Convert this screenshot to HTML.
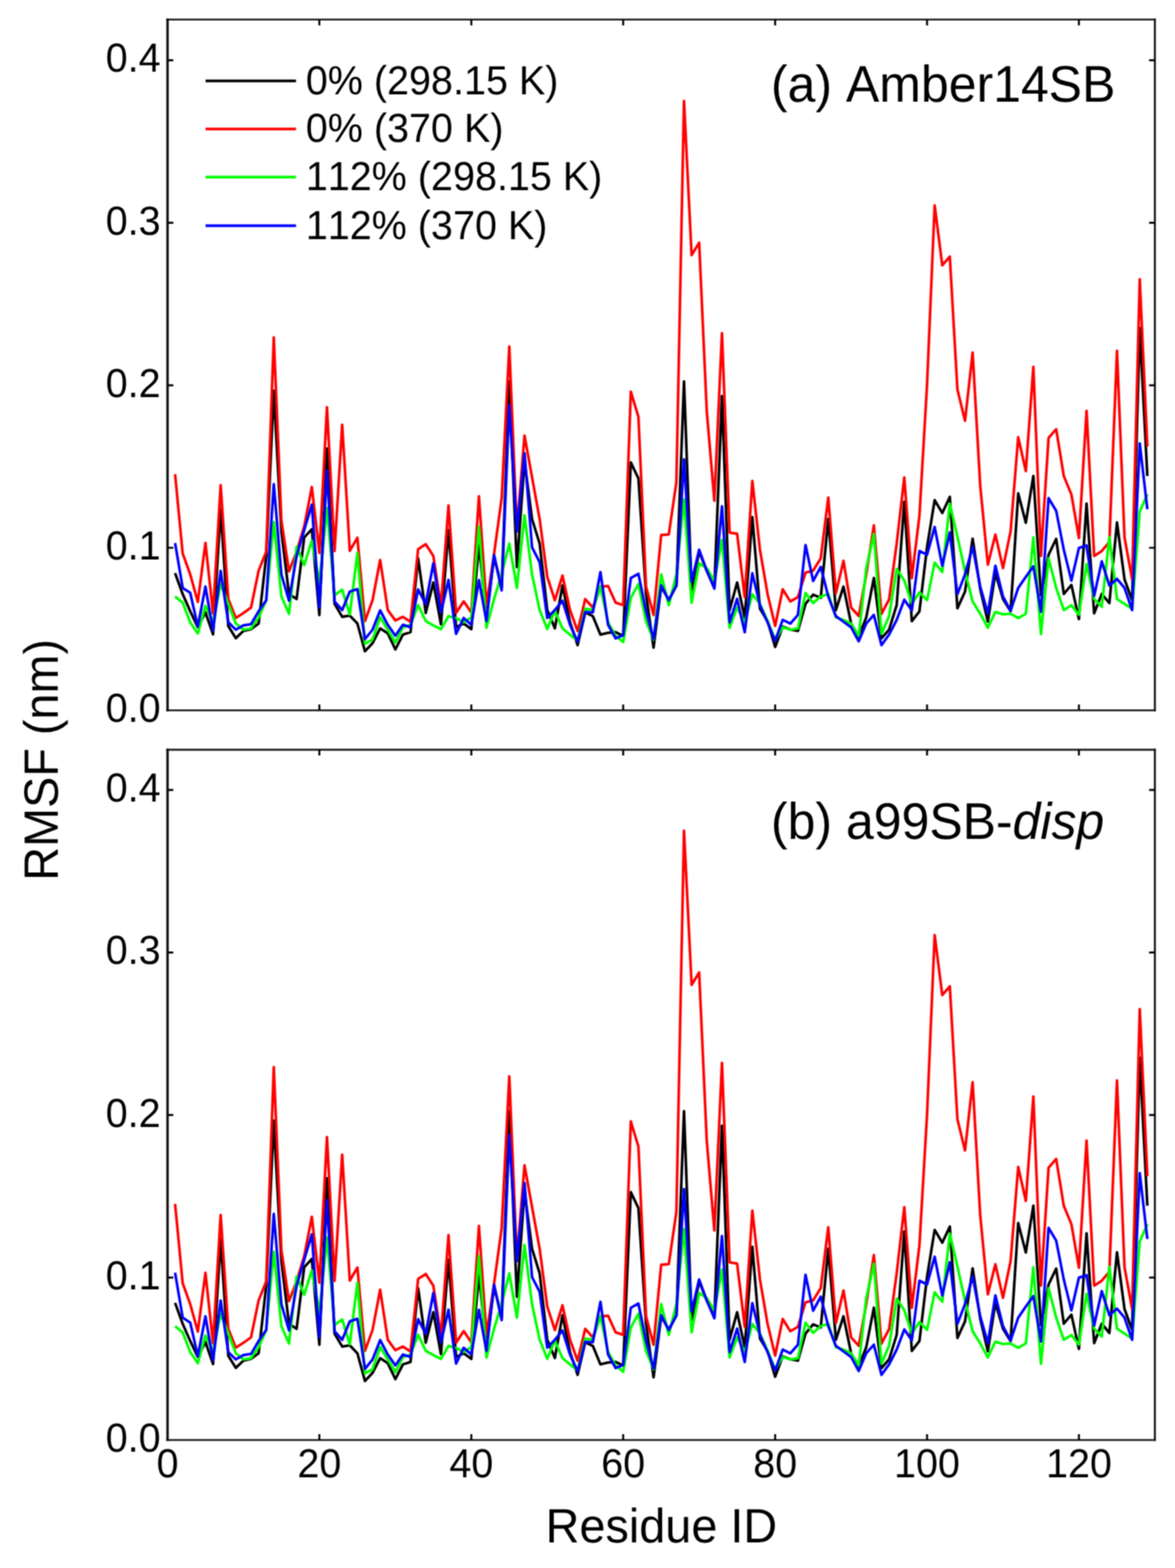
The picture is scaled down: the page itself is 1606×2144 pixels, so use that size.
<!DOCTYPE html>
<html lang="en"><head><meta charset="utf-8"><title>RMSF per residue</title>
<style>
html,body{margin:0;padding:0;background:#fff;}
body{width:1606px;height:2144px;overflow:hidden;}
svg{display:block;font-family:"Liberation Sans",Arial,Helvetica,sans-serif;fill:#000;font-kerning:none;text-rendering:geometricPrecision;}
</style></head><body>
<svg xmlns="http://www.w3.org/2000/svg" width="1606" height="2144" viewBox="0 0 1606 2144">
<defs><filter id="soft" filterUnits="userSpaceOnUse" x="0" y="0" width="1606" height="2144" color-interpolation-filters="sRGB"><feConvolveMatrix order="3" kernelMatrix="1 2 1 2 4 2 1 2 1" divisor="16" edgeMode="duplicate" preserveAlpha="false"/></filter></defs>
<g filter="url(#soft)">
<rect width="1606" height="2144" fill="#ffffff"/>
<g id="panel-a">
<polyline fill="none" stroke="#000000" stroke-width="3.60" stroke-linejoin="round" points="239.3,783.7 249.7,812.3 260.0,835.8 270.4,857.7 280.8,837.4 291.2,867.3 301.6,696.5 312.0,856.0 322.3,872.6 332.7,862.7 343.1,860.2 353.5,852.6 363.9,760.2 374.2,534.4 384.6,726.5 395.0,812.3 405.4,819.1 415.8,734.9 426.2,723.6 436.5,840.9 446.9,613.2 457.3,825.7 467.7,843.4 478.1,841.7 488.5,852.6 498.8,890.5 509.2,879.5 519.6,859.3 530.0,866.1 540.4,888.0 550.7,867.8 561.1,864.4 571.5,763.4 581.9,838.1 592.3,796.5 602.7,853.8 613.0,724.8 623.4,857.7 633.8,852.5 644.2,860.3 654.6,744.9 664.9,842.6 675.3,761.8 685.7,802.3 696.1,521.6 706.5,775.4 716.9,630.6 727.2,709.7 737.6,743.3 748.0,834.1 758.4,859.1 768.8,800.4 779.1,850.9 789.5,882.1 799.9,837.5 810.3,842.5 820.7,867.8 831.1,865.2 841.4,864.4 851.8,869.5 862.2,632.3 872.6,654.2 883.0,812.3 893.3,885.5 903.7,802.1 914.1,820.4 924.5,801.0 934.9,521.6 945.3,807.3 955.6,754.1 966.0,780.5 976.4,802.9 986.8,541.6 997.2,834.2 1007.5,796.5 1017.9,844.3 1028.3,707.1 1038.7,832.4 1049.1,849.3 1059.5,884.6 1069.8,856.8 1080.2,860.7 1090.6,862.7 1101.0,825.7 1111.4,813.1 1121.8,817.3 1132.1,709.6 1142.5,834.2 1152.9,802.1 1163.3,852.6 1173.7,871.2 1184.0,844.2 1194.4,790.3 1204.8,872.9 1215.2,861.0 1225.6,827.4 1236.0,686.1 1246.3,849.3 1256.7,835.8 1267.1,748.0 1277.5,683.9 1287.9,701.4 1298.2,679.4 1308.6,831.7 1319.0,808.9 1329.4,736.5 1339.8,805.5 1350.2,849.9 1360.5,783.6 1370.9,819.0 1381.3,835.9 1391.7,674.6 1402.1,714.8 1412.4,650.8 1422.8,814.0 1433.2,758.5 1443.6,736.8 1454.0,812.1 1464.4,799.9 1474.7,846.5 1485.1,688.6 1495.5,838.7 1505.9,812.2 1516.3,824.7 1526.7,714.4 1537.0,792.1 1547.4,820.8 1557.8,448.6 1568.2,650.9"/>
<polyline fill="none" stroke="#ff0000" stroke-width="3.60" stroke-linejoin="round" points="239.3,648.4 249.7,756.8 260.0,785.4 270.4,823.0 280.8,742.4 291.2,838.7 301.6,663.4 312.0,819.0 322.3,844.9 332.7,838.3 343.1,830.8 353.5,780.3 363.9,754.3 374.2,461.2 384.6,711.4 395.0,781.3 405.4,754.3 415.8,719.8 426.2,665.9 436.5,756.0 446.9,556.9 457.3,753.5 467.7,580.9 478.1,753.2 488.5,735.4 498.8,849.3 509.2,820.7 519.6,765.7 530.0,834.1 540.4,848.4 550.7,843.4 561.1,850.2 571.5,750.9 581.9,744.1 592.3,760.2 602.7,829.2 613.0,691.1 623.4,838.1 633.8,822.3 644.2,837.6 654.6,678.5 664.9,827.5 675.3,757.6 685.7,681.1 696.1,473.9 706.5,724.9 716.9,595.6 727.2,652.6 737.6,709.7 748.0,788.7 758.4,820.8 768.8,787.0 779.1,834.1 789.5,862.8 799.9,819.2 810.3,830.8 820.7,802.2 831.1,801.3 841.4,824.0 851.8,827.4 862.2,535.6 872.6,570.0 883.0,802.2 893.3,840.9 903.7,731.6 914.1,730.7 924.5,659.3 934.9,138.1 945.3,348.9 955.6,331.9 966.0,562.0 976.4,684.6 986.8,455.6 997.2,728.2 1007.5,729.9 1017.9,816.3 1028.3,657.5 1038.7,751.7 1049.1,812.3 1059.5,855.8 1069.8,805.7 1080.2,822.4 1090.6,816.5 1101.0,782.9 1111.4,780.3 1121.8,763.5 1132.1,680.2 1142.5,811.2 1152.9,766.8 1163.3,830.8 1173.7,842.3 1184.0,785.4 1194.4,718.3 1204.8,839.3 1215.2,819.6 1225.6,743.3 1236.0,652.8 1246.3,790.5 1256.7,705.0 1267.1,526.0 1277.5,280.8 1287.9,362.8 1298.2,350.9 1308.6,532.5 1319.0,575.3 1329.4,482.0 1339.8,664.3 1350.2,772.0 1360.5,730.9 1370.9,776.8 1381.3,726.5 1391.7,597.8 1402.1,644.2 1412.4,501.6 1422.8,760.2 1433.2,598.8 1443.6,586.9 1454.0,650.9 1464.4,676.1 1474.7,735.6 1485.1,561.7 1495.5,760.2 1505.9,753.4 1516.3,741.1 1526.7,479.6 1537.0,734.9 1547.4,792.2 1557.8,381.9 1568.2,610.5"/>
<polyline fill="none" stroke="#00ff00" stroke-width="3.60" stroke-linejoin="round" points="239.3,815.6 249.7,824.0 260.0,850.9 270.4,866.2 280.8,828.4 291.2,851.0 301.6,798.7 312.0,825.7 322.3,852.6 332.7,861.0 343.1,859.3 353.5,844.2 363.9,820.7 374.2,713.8 384.6,815.6 395.0,839.3 405.4,747.5 415.8,772.6 426.2,739.3 436.5,797.2 446.9,694.5 457.3,814.0 467.7,806.3 478.1,840.4 488.5,755.9 498.8,880.1 509.2,874.5 519.6,844.1 530.0,861.0 540.4,878.5 550.7,857.7 561.1,854.3 571.5,827.3 581.9,849.3 592.3,855.1 602.7,860.3 613.0,842.5 623.4,845.1 633.8,850.9 644.2,844.2 654.6,719.7 664.9,858.3 675.3,819.0 685.7,784.8 696.1,743.3 706.5,803.9 716.9,704.6 727.2,785.4 737.6,834.1 748.0,860.0 758.4,835.2 768.8,859.3 779.1,867.8 789.5,876.2 799.9,832.4 810.3,834.1 820.7,802.1 831.1,850.9 841.4,869.4 851.8,877.9 862.2,817.3 872.6,798.7 883.0,849.3 893.3,874.6 903.7,785.3 914.1,827.5 924.5,785.4 934.9,682.7 945.3,824.1 955.6,770.2 966.0,777.0 976.4,794.4 986.8,738.2 997.2,858.3 1007.5,830.7 1017.9,851.0 1028.3,812.5 1038.7,825.7 1049.1,849.3 1059.5,874.6 1069.8,857.7 1080.2,861.0 1090.6,859.3 1101.0,810.8 1111.4,824.7 1121.8,815.6 1132.1,812.3 1142.5,844.2 1152.9,847.6 1163.3,852.6 1173.7,869.5 1184.0,777.0 1194.4,730.1 1204.8,866.7 1215.2,842.5 1225.6,778.0 1236.0,793.8 1246.3,825.8 1256.7,810.0 1267.1,820.5 1277.5,769.3 1287.9,782.1 1298.2,688.9 1308.6,733.7 1319.0,781.0 1329.4,822.4 1339.8,839.2 1350.2,858.3 1360.5,836.7 1370.9,840.0 1381.3,839.2 1391.7,845.1 1402.1,839.2 1412.4,734.9 1422.8,867.0 1433.2,763.4 1443.6,803.9 1454.0,834.2 1464.4,827.6 1474.7,840.7 1485.1,771.3 1495.5,819.0 1505.9,829.7 1516.3,734.3 1526.7,819.0 1537.0,825.7 1547.4,832.5 1557.8,699.6 1568.2,676.1"/>
<polyline fill="none" stroke="#0000ff" stroke-width="3.60" stroke-linejoin="round" points="239.3,742.5 249.7,803.9 260.0,810.6 270.4,856.6 280.8,802.1 291.2,862.2 301.6,780.5 312.0,850.9 322.3,861.0 332.7,855.1 343.1,853.5 353.5,835.8 363.9,820.7 374.2,662.0 384.6,785.4 395.0,821.3 405.4,760.2 415.8,724.8 426.2,690.0 436.5,830.8 446.9,643.2 457.3,822.4 467.7,834.2 478.1,808.9 488.5,805.5 498.8,874.0 509.2,861.0 519.6,834.6 530.0,854.3 540.4,869.2 550.7,854.3 561.1,857.7 571.5,806.0 581.9,825.8 592.3,770.2 602.7,837.6 613.0,793.1 623.4,866.7 633.8,845.0 644.2,854.4 654.6,793.1 664.9,849.3 675.3,758.7 685.7,807.3 696.1,553.6 706.5,726.6 716.9,619.7 727.2,748.4 737.6,768.6 748.0,844.9 758.4,834.1 768.8,821.4 779.1,854.3 789.5,877.4 799.9,836.9 810.3,837.5 820.7,782.2 831.1,854.3 841.4,872.8 851.8,868.6 862.2,790.4 872.6,784.5 883.0,835.8 893.3,873.4 903.7,800.4 914.1,820.8 924.5,800.5 934.9,628.1 945.3,795.5 955.6,751.7 966.0,780.3 976.4,804.8 986.8,692.3 997.2,851.0 1007.5,818.9 1017.9,864.5 1028.3,783.9 1038.7,827.4 1049.1,850.9 1059.5,876.2 1069.8,847.5 1080.2,852.7 1090.6,840.9 1101.0,745.2 1111.4,794.4 1121.8,775.2 1132.1,815.6 1142.5,842.5 1152.9,850.1 1163.3,857.7 1173.7,876.8 1184.0,852.6 1194.4,840.8 1204.8,882.1 1215.2,867.8 1225.6,847.6 1236.0,820.0 1246.3,834.8 1256.7,753.4 1267.1,758.5 1277.5,720.6 1287.9,773.7 1298.2,728.1 1308.6,812.4 1319.0,785.4 1329.4,747.5 1339.8,802.2 1350.2,838.7 1360.5,773.5 1370.9,815.6 1381.3,835.1 1391.7,803.9 1402.1,788.7 1412.4,774.4 1422.8,836.5 1433.2,681.1 1443.6,698.5 1454.0,751.7 1464.4,793.9 1474.7,749.2 1485.1,745.9 1495.5,814.6 1505.9,767.6 1516.3,800.6 1526.7,791.5 1537.0,803.9 1547.4,834.2 1557.8,606.2 1568.2,696.3"/>
<path d="M227.3 26.8H1579.9 M227.3 971.2H1579.9" fill="none" stroke="#1c1c1c" stroke-width="2.6"/>
<path d="M229.0 25.5V972.5" fill="none" stroke="#0c0c0c" stroke-width="3.3"/>
<path d="M1578.5 25.5V972.5" fill="none" stroke="#141414" stroke-width="2.7"/>
<path d="M436.5 26.8v8 M436.5 971.2v-8" stroke="#000" stroke-width="2.70"/>
<path d="M644.2 26.8v8 M644.2 971.2v-8" stroke="#000" stroke-width="2.70"/>
<path d="M851.8 26.8v8 M851.8 971.2v-8" stroke="#000" stroke-width="2.70"/>
<path d="M1059.5 26.8v8 M1059.5 971.2v-8" stroke="#000" stroke-width="2.70"/>
<path d="M1267.1 26.8v8 M1267.1 971.2v-8" stroke="#000" stroke-width="2.70"/>
<path d="M1474.7 26.8v8 M1474.7 971.2v-8" stroke="#000" stroke-width="2.70"/>
<path d="M228.9 749.0h8 M1578.6 749.0h-8" stroke="#000" stroke-width="2.70"/>
<path d="M228.9 526.8h8 M1578.6 526.8h-8" stroke="#000" stroke-width="2.70"/>
<path d="M228.9 304.6h8 M1578.6 304.6h-8" stroke="#000" stroke-width="2.70"/>
<path d="M228.9 82.4h8 M1578.6 82.4h-8" stroke="#000" stroke-width="2.70"/>
<text transform="translate(219.5 987.2) scale(1 1.03)" text-anchor="end" font-size="54">0.0</text>
<text transform="translate(219.5 765.0) scale(1 1.03)" text-anchor="end" font-size="54">0.1</text>
<text transform="translate(219.5 542.8) scale(1 1.03)" text-anchor="end" font-size="54">0.2</text>
<text transform="translate(219.5 320.6) scale(1 1.03)" text-anchor="end" font-size="54">0.3</text>
<text transform="translate(219.5 98.4) scale(1 1.03)" text-anchor="end" font-size="54">0.4</text>
</g>
<g id="panel-b">
<polyline fill="none" stroke="#000000" stroke-width="3.60" stroke-linejoin="round" points="239.3,1781.5 249.7,1810.1 260.0,1833.6 270.4,1855.5 280.8,1835.2 291.2,1865.1 301.6,1694.3 312.0,1853.8 322.3,1870.4 332.7,1860.5 343.1,1858.0 353.5,1850.4 363.9,1758.0 374.2,1532.2 384.6,1724.3 395.0,1810.1 405.4,1816.9 415.8,1732.7 426.2,1721.4 436.5,1838.7 446.9,1611.0 457.3,1823.5 467.7,1841.2 478.1,1839.5 488.5,1850.4 498.8,1888.3 509.2,1877.3 519.6,1857.1 530.0,1863.9 540.4,1885.8 550.7,1865.6 561.1,1862.2 571.5,1761.2 581.9,1835.9 592.3,1794.3 602.7,1851.6 613.0,1722.6 623.4,1855.5 633.8,1850.3 644.2,1858.1 654.6,1742.7 664.9,1840.4 675.3,1759.6 685.7,1800.1 696.1,1519.4 706.5,1773.2 716.9,1628.4 727.2,1707.5 737.6,1741.1 748.0,1831.9 758.4,1856.9 768.8,1798.2 779.1,1848.7 789.5,1879.9 799.9,1835.3 810.3,1840.3 820.7,1865.6 831.1,1863.0 841.4,1862.2 851.8,1867.3 862.2,1630.1 872.6,1652.0 883.0,1810.1 893.3,1883.3 903.7,1799.9 914.1,1818.2 924.5,1798.8 934.9,1519.4 945.3,1805.1 955.6,1751.9 966.0,1778.3 976.4,1800.7 986.8,1539.4 997.2,1832.0 1007.5,1794.3 1017.9,1842.1 1028.3,1704.9 1038.7,1830.2 1049.1,1847.1 1059.5,1882.4 1069.8,1854.6 1080.2,1858.5 1090.6,1860.5 1101.0,1823.5 1111.4,1810.9 1121.8,1815.1 1132.1,1707.4 1142.5,1832.0 1152.9,1799.9 1163.3,1850.4 1173.7,1869.0 1184.0,1842.0 1194.4,1788.1 1204.8,1870.7 1215.2,1858.8 1225.6,1825.2 1236.0,1683.9 1246.3,1847.1 1256.7,1833.6 1267.1,1745.8 1277.5,1681.7 1287.9,1699.2 1298.2,1677.2 1308.6,1829.5 1319.0,1806.7 1329.4,1734.3 1339.8,1803.3 1350.2,1847.7 1360.5,1781.4 1370.9,1816.8 1381.3,1833.7 1391.7,1672.4 1402.1,1712.6 1412.4,1648.6 1422.8,1811.8 1433.2,1756.3 1443.6,1734.6 1454.0,1809.9 1464.4,1797.7 1474.7,1844.3 1485.1,1686.4 1495.5,1836.5 1505.9,1810.0 1516.3,1822.5 1526.7,1712.2 1537.0,1789.9 1547.4,1818.6 1557.8,1446.4 1568.2,1648.7"/>
<polyline fill="none" stroke="#ff0000" stroke-width="3.60" stroke-linejoin="round" points="239.3,1646.2 249.7,1754.6 260.0,1783.2 270.4,1820.8 280.8,1740.2 291.2,1836.5 301.6,1661.2 312.0,1816.8 322.3,1842.7 332.7,1836.1 343.1,1828.6 353.5,1778.1 363.9,1752.1 374.2,1459.0 384.6,1709.2 395.0,1779.1 405.4,1752.1 415.8,1717.6 426.2,1663.7 436.5,1753.8 446.9,1554.7 457.3,1751.3 467.7,1578.7 478.1,1751.0 488.5,1733.2 498.8,1847.1 509.2,1818.5 519.6,1763.5 530.0,1831.9 540.4,1846.2 550.7,1841.2 561.1,1848.0 571.5,1748.7 581.9,1741.9 592.3,1758.0 602.7,1827.0 613.0,1688.9 623.4,1835.9 633.8,1820.1 644.2,1835.4 654.6,1676.3 664.9,1825.3 675.3,1755.4 685.7,1678.9 696.1,1471.7 706.5,1722.7 716.9,1593.4 727.2,1650.4 737.6,1707.5 748.0,1786.5 758.4,1818.6 768.8,1784.8 779.1,1831.9 789.5,1860.6 799.9,1817.0 810.3,1828.6 820.7,1800.0 831.1,1799.1 841.4,1821.8 851.8,1825.2 862.2,1533.4 872.6,1567.8 883.0,1800.0 893.3,1838.7 903.7,1729.4 914.1,1728.5 924.5,1657.1 934.9,1135.9 945.3,1346.7 955.6,1329.7 966.0,1559.8 976.4,1682.4 986.8,1453.4 997.2,1726.0 1007.5,1727.7 1017.9,1814.1 1028.3,1655.3 1038.7,1749.5 1049.1,1810.1 1059.5,1853.6 1069.8,1803.5 1080.2,1820.2 1090.6,1814.3 1101.0,1780.7 1111.4,1778.1 1121.8,1761.3 1132.1,1678.0 1142.5,1809.0 1152.9,1764.6 1163.3,1828.6 1173.7,1840.1 1184.0,1783.2 1194.4,1716.1 1204.8,1837.1 1215.2,1817.4 1225.6,1741.1 1236.0,1650.6 1246.3,1788.3 1256.7,1702.8 1267.1,1523.8 1277.5,1278.6 1287.9,1360.6 1298.2,1348.7 1308.6,1530.3 1319.0,1573.1 1329.4,1479.8 1339.8,1662.1 1350.2,1769.8 1360.5,1728.7 1370.9,1774.6 1381.3,1724.3 1391.7,1595.6 1402.1,1642.0 1412.4,1499.4 1422.8,1758.0 1433.2,1596.6 1443.6,1584.7 1454.0,1648.7 1464.4,1673.9 1474.7,1733.4 1485.1,1559.5 1495.5,1758.0 1505.9,1751.2 1516.3,1738.9 1526.7,1477.4 1537.0,1732.7 1547.4,1790.0 1557.8,1379.7 1568.2,1608.3"/>
<polyline fill="none" stroke="#00ff00" stroke-width="3.60" stroke-linejoin="round" points="239.3,1813.4 249.7,1821.8 260.0,1848.7 270.4,1864.0 280.8,1826.2 291.2,1848.8 301.6,1796.5 312.0,1823.5 322.3,1850.4 332.7,1858.8 343.1,1857.1 353.5,1842.0 363.9,1818.5 374.2,1711.6 384.6,1813.4 395.0,1837.1 405.4,1745.3 415.8,1770.4 426.2,1737.1 436.5,1795.0 446.9,1692.3 457.3,1811.8 467.7,1804.1 478.1,1838.2 488.5,1753.7 498.8,1877.9 509.2,1872.3 519.6,1841.9 530.0,1858.8 540.4,1876.3 550.7,1855.5 561.1,1852.1 571.5,1825.1 581.9,1847.1 592.3,1852.9 602.7,1858.1 613.0,1840.3 623.4,1842.9 633.8,1848.7 644.2,1842.0 654.6,1717.5 664.9,1856.1 675.3,1816.8 685.7,1782.6 696.1,1741.1 706.5,1801.7 716.9,1702.4 727.2,1783.2 737.6,1831.9 748.0,1857.8 758.4,1833.0 768.8,1857.1 779.1,1865.6 789.5,1874.0 799.9,1830.2 810.3,1831.9 820.7,1799.9 831.1,1848.7 841.4,1867.2 851.8,1875.7 862.2,1815.1 872.6,1796.5 883.0,1847.1 893.3,1872.4 903.7,1783.1 914.1,1825.3 924.5,1783.2 934.9,1680.5 945.3,1821.9 955.6,1768.0 966.0,1774.8 976.4,1792.2 986.8,1736.0 997.2,1856.1 1007.5,1828.5 1017.9,1848.8 1028.3,1810.3 1038.7,1823.5 1049.1,1847.1 1059.5,1872.4 1069.8,1855.5 1080.2,1858.8 1090.6,1857.1 1101.0,1808.6 1111.4,1822.5 1121.8,1813.4 1132.1,1810.1 1142.5,1842.0 1152.9,1845.4 1163.3,1850.4 1173.7,1867.3 1184.0,1774.8 1194.4,1727.9 1204.8,1864.5 1215.2,1840.3 1225.6,1775.8 1236.0,1791.6 1246.3,1823.6 1256.7,1807.8 1267.1,1818.3 1277.5,1767.1 1287.9,1779.9 1298.2,1686.7 1308.6,1731.5 1319.0,1778.8 1329.4,1820.2 1339.8,1837.0 1350.2,1856.1 1360.5,1834.5 1370.9,1837.8 1381.3,1837.0 1391.7,1842.9 1402.1,1837.0 1412.4,1732.7 1422.8,1864.8 1433.2,1761.2 1443.6,1801.7 1454.0,1832.0 1464.4,1825.4 1474.7,1838.5 1485.1,1769.1 1495.5,1816.8 1505.9,1827.5 1516.3,1732.1 1526.7,1816.8 1537.0,1823.5 1547.4,1830.3 1557.8,1697.4 1568.2,1673.9"/>
<polyline fill="none" stroke="#0000ff" stroke-width="3.60" stroke-linejoin="round" points="239.3,1740.3 249.7,1801.7 260.0,1808.4 270.4,1854.4 280.8,1799.9 291.2,1860.0 301.6,1778.3 312.0,1848.7 322.3,1858.8 332.7,1852.9 343.1,1851.3 353.5,1833.6 363.9,1818.5 374.2,1659.8 384.6,1783.2 395.0,1819.1 405.4,1758.0 415.8,1722.6 426.2,1687.8 436.5,1828.6 446.9,1641.0 457.3,1820.2 467.7,1832.0 478.1,1806.7 488.5,1803.3 498.8,1871.8 509.2,1858.8 519.6,1832.4 530.0,1852.1 540.4,1867.0 550.7,1852.1 561.1,1855.5 571.5,1803.8 581.9,1823.6 592.3,1768.0 602.7,1835.4 613.0,1790.9 623.4,1864.5 633.8,1842.8 644.2,1852.2 654.6,1790.9 664.9,1847.1 675.3,1756.5 685.7,1805.1 696.1,1551.4 706.5,1724.4 716.9,1617.5 727.2,1746.2 737.6,1766.4 748.0,1842.7 758.4,1831.9 768.8,1819.2 779.1,1852.1 789.5,1875.2 799.9,1834.7 810.3,1835.3 820.7,1780.0 831.1,1852.1 841.4,1870.6 851.8,1866.4 862.2,1788.2 872.6,1782.3 883.0,1833.6 893.3,1871.2 903.7,1798.2 914.1,1818.6 924.5,1798.3 934.9,1625.9 945.3,1793.3 955.6,1749.5 966.0,1778.1 976.4,1802.6 986.8,1690.1 997.2,1848.8 1007.5,1816.7 1017.9,1862.3 1028.3,1781.7 1038.7,1825.2 1049.1,1848.7 1059.5,1874.0 1069.8,1845.3 1080.2,1850.5 1090.6,1838.7 1101.0,1743.0 1111.4,1792.2 1121.8,1773.0 1132.1,1813.4 1142.5,1840.3 1152.9,1847.9 1163.3,1855.5 1173.7,1874.6 1184.0,1850.4 1194.4,1838.6 1204.8,1879.9 1215.2,1865.6 1225.6,1845.4 1236.0,1817.8 1246.3,1832.6 1256.7,1751.2 1267.1,1756.3 1277.5,1718.4 1287.9,1771.5 1298.2,1725.9 1308.6,1810.2 1319.0,1783.2 1329.4,1745.3 1339.8,1800.0 1350.2,1836.5 1360.5,1771.3 1370.9,1813.4 1381.3,1832.9 1391.7,1801.7 1402.1,1786.5 1412.4,1772.2 1422.8,1834.3 1433.2,1678.9 1443.6,1696.3 1454.0,1749.5 1464.4,1791.7 1474.7,1747.0 1485.1,1743.7 1495.5,1812.4 1505.9,1765.4 1516.3,1798.4 1526.7,1789.3 1537.0,1801.7 1547.4,1832.0 1557.8,1604.0 1568.2,1694.1"/>
<path d="M227.3 1025.1H1579.9 M227.3 1969.0H1579.9" fill="none" stroke="#1c1c1c" stroke-width="2.6"/>
<path d="M229.0 1023.8V1970.3" fill="none" stroke="#0c0c0c" stroke-width="3.3"/>
<path d="M1578.5 1023.8V1970.3" fill="none" stroke="#141414" stroke-width="2.7"/>
<path d="M436.5 1025.1v8 M436.5 1969.0v-8" stroke="#000" stroke-width="2.70"/>
<path d="M644.2 1025.1v8 M644.2 1969.0v-8" stroke="#000" stroke-width="2.70"/>
<path d="M851.8 1025.1v8 M851.8 1969.0v-8" stroke="#000" stroke-width="2.70"/>
<path d="M1059.5 1025.1v8 M1059.5 1969.0v-8" stroke="#000" stroke-width="2.70"/>
<path d="M1267.1 1025.1v8 M1267.1 1969.0v-8" stroke="#000" stroke-width="2.70"/>
<path d="M1474.7 1025.1v8 M1474.7 1969.0v-8" stroke="#000" stroke-width="2.70"/>
<path d="M228.9 1746.8h8 M1578.6 1746.8h-8" stroke="#000" stroke-width="2.70"/>
<path d="M228.9 1524.6h8 M1578.6 1524.6h-8" stroke="#000" stroke-width="2.70"/>
<path d="M228.9 1302.4h8 M1578.6 1302.4h-8" stroke="#000" stroke-width="2.70"/>
<path d="M228.9 1080.2h8 M1578.6 1080.2h-8" stroke="#000" stroke-width="2.70"/>
<text transform="translate(219.5 1985.0) scale(1 1.03)" text-anchor="end" font-size="54">0.0</text>
<text transform="translate(219.5 1762.8) scale(1 1.03)" text-anchor="end" font-size="54">0.1</text>
<text transform="translate(219.5 1540.6) scale(1 1.03)" text-anchor="end" font-size="54">0.2</text>
<text transform="translate(219.5 1318.4) scale(1 1.03)" text-anchor="end" font-size="54">0.3</text>
<text transform="translate(219.5 1096.2) scale(1 1.03)" text-anchor="end" font-size="54">0.4</text>
<text transform="translate(228.9 2020.0) scale(1 1.03)" text-anchor="middle" font-size="54">0</text>
<text transform="translate(436.5 2020.0) scale(1 1.03)" text-anchor="middle" font-size="54">20</text>
<text transform="translate(644.2 2020.0) scale(1 1.03)" text-anchor="middle" font-size="54">40</text>
<text transform="translate(851.8 2020.0) scale(1 1.03)" text-anchor="middle" font-size="54">60</text>
<text transform="translate(1059.5 2020.0) scale(1 1.03)" text-anchor="middle" font-size="54">80</text>
<text transform="translate(1267.1 2020.0) scale(1 1.03)" text-anchor="middle" font-size="54">100</text>
<text transform="translate(1474.7 2020.0) scale(1 1.03)" text-anchor="middle" font-size="54">120</text>
</g>
<g id="legend">
<path d="M281 110.6H404.6" stroke="#000000" stroke-width="3.60"/>
<text transform="translate(418.0 128.6) scale(1 1.03)" font-size="54">0% (298.15 K)</text>
<path d="M281 176.4H404.6" stroke="#ff0000" stroke-width="3.60"/>
<text transform="translate(418.0 194.4) scale(1 1.03)" font-size="54">0% (370 K)</text>
<path d="M281 242.1H404.6" stroke="#00ff00" stroke-width="3.60"/>
<text transform="translate(418.0 260.1) scale(1 1.03)" font-size="54">112% (298.15 K)</text>
<path d="M281 308.6H404.6" stroke="#0000ff" stroke-width="3.60"/>
<text transform="translate(418.0 326.6) scale(1 1.03)" font-size="54">112% (370 K)</text>
</g>
<text transform="translate(1053.8 139.3) scale(1 1.03)" font-size="68.3">(a) Amber14SB</text>
<text transform="translate(1053.8 1147.0) scale(1 1.03)" font-size="68.3">(b) a99SB-<tspan font-style="italic">disp</tspan></text>
<text transform="translate(79.2 1039) rotate(-90) scale(1 1.03)" text-anchor="middle" font-size="64">RMSF (nm)</text>
<text transform="translate(904 2109.3) scale(1 1.03)" text-anchor="middle" font-size="64">Residue ID</text>
</g>
</svg>
</body></html>
